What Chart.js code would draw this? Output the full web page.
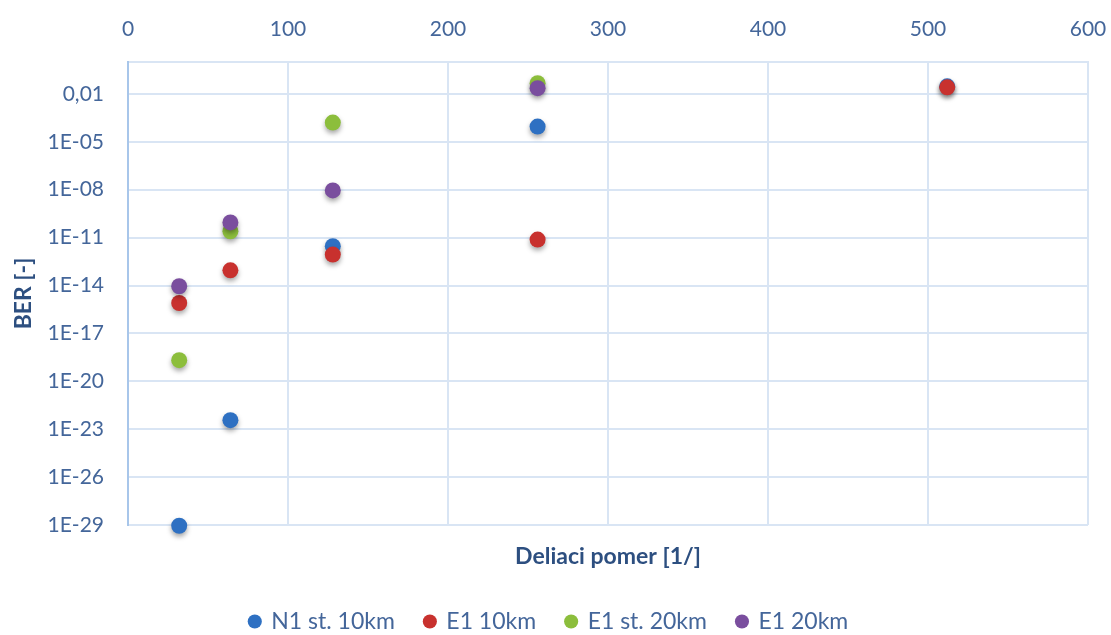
<!DOCTYPE html>
<html>
<head>
<meta charset="utf-8">
<script src="https://cdn.jsdelivr.net/npm/chart.js@4.4.0/dist/chart.umd.min.js"></script>
<style>
  html, body { margin: 0; padding: 0; background: #ffffff; }
  #wrap { width: 1111px; height: 635px; }
</style>
</head>
<body>
<div id="wrap"><canvas id="chart" width="1111" height="635"></canvas></div>
<script>
// deliaci pomer (x) a BER pre jednotlive konfiguracie
var splitRatios = [32, 64, 128, 256, 512];
var berN1st10 = [9e-30, 3.7e-23, 2.9e-12, 9e-5, 0.03];
var berE1_10 = [8e-16, 9e-14, 8.7e-13, 7.5e-12, 0.026];
var berE1st20 = [2.1e-19, 2.5e-11, 1.6e-4, 0.047];
var berE1_20 = [9e-15, 9e-11, 9e-9, 0.023];

var seriesNames = ["N1 st. 10km", "E1 10km", "E1 st. 20km", "E1 20km"];
var seriesColors = ["#2E70C2", "#C8312E", "#8CBE3C", "#7A4E9E"];

var yTickValues = [1e-2, 1e-5, 1e-8, 1e-11, 1e-14, 1e-17, 1e-20, 1e-23, 1e-26, 1e-29];
var yTickLabels = ["0,01", "1E-05", "1E-08", "1E-11", "1E-14", "1E-17", "1E-20", "1E-23", "1E-26", "1E-29"];

var textColor = "#44669A";
var titleColor = "#2D4F80";
var gridColor = "#D9E5F4";
var fontFam = "Lato, 'Liberation Sans', sans-serif";

function toPoints(ys) {
    var pts = [];
    for (var i = 0; i < ys.length; i++) {
        pts.push({x: splitRatios[i], y: ys[i]});
    }
    return pts;
}

var allSeries = [berN1st10, berE1_10, berE1st20, berE1_20];
var datasets = [];
allSeries.forEach(function (ys, i) {
    datasets.push({
        label: seriesNames[i],
        data: toPoints(ys),
        backgroundColor: seriesColors[i],
        borderColor: seriesColors[i],
        pointRadius: 8,
        pointHoverRadius: 8,
        pointBorderWidth: 0,
        showLine: false,
        clip: false,
        // neskorsia seria sa kresli navrch (ako v Exceli)
        order: allSeries.length - i
    });
});

// tien pod bodmi
var shadowPlugin = {
    id: "pointShadow",
    beforeDatasetsDraw: function (chart) {
        var ctx = chart.ctx;
        ctx.save();
        ctx.shadowColor = "rgba(0,0,0,0.35)";
        ctx.shadowBlur = 5;
        ctx.shadowOffsetX = 0;
        ctx.shadowOffsetY = 3;
    },
    afterDatasetsDraw: function (chart) {
        chart.ctx.restore();
    }
};

var ctx = document.getElementById("chart");
var myChart = new Chart(ctx, {
    type: "scatter",
    data: {datasets: datasets},
    plugins: [shadowPlugin],
    options: {
        responsive: false,
        animation: false,
        devicePixelRatio: 1,
        layout: {padding: {left: 10, right: 23, top: 0, bottom: -8}},
        scales: {
            x: {
                type: "linear",
                position: "top",
                min: 0,
                max: 600,
                ticks: {
                    stepSize: 100,
                    color: textColor,
                    font: {family: fontFam, size: 21},
                    padding: 20,
                    maxRotation: 0
                },
                grid: {color: gridColor, lineWidth: 2, drawTicks: false},
                border: {color: gridColor, width: 2},
                afterFit: function (scale) {
                    scale.height = 62;
                    scale.paddingLeft = 0;
                    scale.paddingRight = 0;
                }
            },
            x2: {
                type: "linear",
                position: "bottom",
                min: 0,
                max: 600,
                ticks: {display: false},
                grid: {display: false, drawTicks: false},
                border: {display: false},
                title: {
                    display: true,
                    text: "Deliaci pomer [1/]",
                    color: titleColor,
                    font: {family: fontFam, size: 23, weight: "bold"},
                    padding: {top: 0, bottom: 10}
                },
                afterFit: function (scale) {
                    scale.height = 55;
                    scale.paddingLeft = 0;
                    scale.paddingRight = 0;
                }
            },
            y: {
                type: "logarithmic",
                min: 1e-29,
                max: 1,
                afterBuildTicks: function (scale) {
                    scale.ticks = yTickValues.map(function (v) { return {value: v}; });
                },
                ticks: {
                    color: textColor,
                    font: {family: fontFam, size: 21},
                    padding: 24,
                    callback: function (value) {
                        var idx = yTickValues.findIndex(function (v) {
                            return Math.abs(Math.log10(v) - Math.log10(value)) < 0.01;
                        });
                        return idx >= 0 ? yTickLabels[idx] : "";
                    }
                },
                grid: {color: gridColor, lineWidth: 2, drawTicks: false},
                border: {color: "#A8C6EA", width: 2},
                title: {
                    display: true,
                    text: "BER [-]",
                    color: titleColor,
                    font: {family: fontFam, size: 23, weight: "bold"},
                    padding: 0
                },
                afterFit: function (scale) {
                    scale.width = 118;
                    scale.paddingTop = 0;
                    scale.paddingBottom = 0;
                }
            }
        },
        plugins: {
            legend: {
                position: "bottom",
                labels: {
                    usePointStyle: true,
                    boxWidth: 10,
                    boxHeight: 10,
                    padding: 30,
                    color: textColor,
                    font: {family: fontFam, size: 23},
                    sort: function (a, b) { return a.datasetIndex - b.datasetIndex; }
                }
            },
            tooltip: {enabled: false}
        }
    }
});
</script>
</body>
</html>
